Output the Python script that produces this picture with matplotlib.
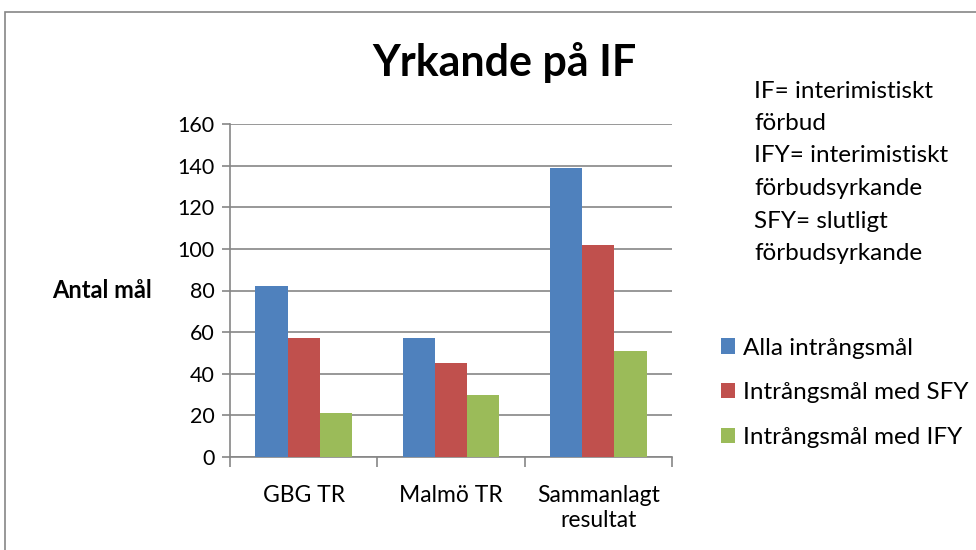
import matplotlib
matplotlib.use("Agg")
import matplotlib.pyplot as plt
from matplotlib.patches import Rectangle
import numpy as np

# Data
categories = ["GBG TR", "Malmö TR", "Sammanlagt\nresultat"]
series_names = ["Alla intrångsmål", "Intrångsmål med SFY", "Intrångsmål med IFY"]
alla = [82, 57, 139]
sfy = [57, 45, 102]
ify = [21, 30, 51]
colors = ["#4f81bd", "#c0504d", "#9bbb59"]
yticks = [0, 20, 40, 60, 80, 100, 120, 140, 160]
note_lines = ["IF= interimistiskt", "förbud", "IFY= interimistiskt",
              "förbudsyrkande", "SFY= slutligt", "förbudsyrkande"]

plt.rcParams['font.family'] = ['Lato', 'DejaVu Sans']
grey = "#868686"

fig = plt.figure(figsize=(9.76, 5.5), dpi=100)
# chart area frame
fig.patches.append(Rectangle((5 / 976, -0.01), 1.0, 1 - 12 / 550 + 0.01,
                             transform=fig.transFigure, fill=False,
                             edgecolor=grey, linewidth=1.2))

ax = fig.add_axes([230 / 976, 1 - 457 / 550, 442 / 976, 333 / 550])

x = np.arange(len(categories))
w = 0.218
for i, (vals, name) in enumerate(zip([alla, sfy, ify], series_names)):
    ax.bar(x + (i - 1) * w, vals, w, color=colors[i], label=name, zorder=3)

ax.set_xlim(-0.5, len(categories) - 0.5)
ax.set_ylim(0, 160)
ax.set_yticks(yticks)
ax.yaxis.grid(True, color=grey, linewidth=1.2, zorder=0)
for s in ["top", "right"]:
    ax.spines[s].set_visible(False)
for s in ["left", "bottom"]:
    ax.spines[s].set_color(grey)
    ax.spines[s].set_linewidth(1.2)

ax.set_xticks(np.arange(len(categories) + 1) - 0.5, minor=False)
ax.set_xticklabels([])
ax.set_xticks(x, minor=True)
ax.set_xticklabels(categories, minor=True, fontsize=16.5, linespacing=1.25)
ax.tick_params(axis="x", which="minor", length=0, pad=20)
ax.tick_params(axis="x", which="major", length=7, color=grey, width=1.2)
ax.tick_params(axis="y", length=6, color=grey, width=1.2, labelsize=15.5, pad=5)

ax.set_ylabel("Antal mål", rotation=0, fontsize=17, fontweight="bold",
              labelpad=0, ha="right", va="center")
ax.yaxis.set_label_coords(-0.176, 0.5)

fig.text(0.517, 1 - 62 / 550, "Yrkande på IF", ha="center", va="center",
         fontsize=31, fontweight="bold")

for k, line in enumerate(note_lines):
    fig.text(754 / 976, 1 - (91 + k * 32.5) / 550, line, ha="left",
             va="center", fontsize=17.5)

fig.legend(loc="upper left", bbox_to_anchor=(711 / 976, 1 - 328 / 550),
           frameon=False, fontsize=17.5, handlelength=0.6, handleheight=0.6,
           handletextpad=0.3, labelspacing=0.97, borderaxespad=0)

fig.savefig("out.png", dpi=100)
